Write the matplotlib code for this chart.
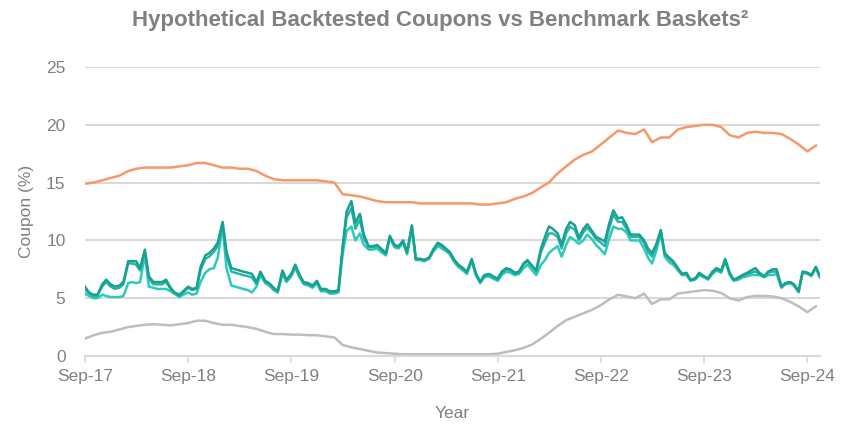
import numpy as np
import pandas as pd
import matplotlib.pyplot as plt

plt.rcParams['font.family'] = ['Liberation Sans', 'DejaVu Sans']

# Monthly benchmark series (Sep-17 .. Oct-24)
orange = [14.9, 15.0, 15.2, 15.4, 15.6, 16.0, 16.2, 16.3, 16.3, 16.3,
          16.3, 16.4, 16.5, 16.7, 16.7, 16.5, 16.3, 16.3, 16.2, 16.2,
          16.0, 15.6, 15.3, 15.2, 15.2, 15.2, 15.2, 15.2, 15.1, 15.0,
          14.0, 13.9, 13.8, 13.6, 13.4, 13.3, 13.3, 13.3, 13.3, 13.2,
          13.2, 13.2, 13.2, 13.2, 13.2, 13.2, 13.1, 13.1, 13.2, 13.3,
          13.6, 13.8, 14.1, 14.6, 15.0, 15.8, 16.4, 17.0, 17.4, 17.7,
          18.3, 18.9, 19.5, 19.3, 19.2, 19.6, 18.5, 18.9, 18.9, 19.6,
          19.8, 19.9, 20.0, 20.0, 19.8, 19.1, 18.9, 19.3, 19.4, 19.3,
          19.3, 19.2, 18.8, 18.3, 17.7, 18.2]

gray = [1.5, 1.8, 2.0, 2.1, 2.3, 2.5, 2.6, 2.7, 2.75, 2.7,
        2.65, 2.75, 2.85, 3.05, 3.05, 2.85, 2.7, 2.7, 2.6, 2.5,
        2.35, 2.1, 1.9, 1.9, 1.85, 1.85, 1.8, 1.8, 1.7, 1.6,
        0.95, 0.75, 0.6, 0.45, 0.3, 0.25, 0.2, 0.15, 0.15, 0.15,
        0.15, 0.15, 0.15, 0.15, 0.15, 0.15, 0.15, 0.15, 0.2, 0.35,
        0.5, 0.7, 1.0, 1.5, 2.0, 2.6, 3.1, 3.4, 3.7, 4.0,
        4.4, 4.9, 5.3, 5.15, 5.0, 5.4, 4.5, 4.9, 4.9, 5.4,
        5.5, 5.6, 5.7, 5.65, 5.45, 5.0, 4.8, 5.1, 5.2, 5.2,
        5.15, 5.0, 4.7, 4.3, 3.8, 4.3]

# Semi-monthly backtested coupons
teal_dark = [6.0, 5.5, 5.3, 5.3, 6.2, 6.6, 6.2, 6.0, 6.1, 6.4,
             8.2, 8.2, 8.2, 7.6, 9.2, 6.9, 6.4, 6.4, 6.4, 6.6,
             5.9, 5.5, 5.3, 5.6, 6.0, 5.8, 5.9, 7.7, 8.7, 8.9,
             9.3, 9.8, 11.6, 9.0, 7.6, 7.5, 7.4, 7.3, 7.2, 7.1,
             6.4, 7.3, 6.5, 6.3, 5.9, 5.6, 7.4, 6.6, 7.1, 7.9,
             7.0, 6.4, 6.3, 6.1, 6.5, 5.8, 5.8, 5.6, 5.6, 5.7,
             9.5, 12.5, 13.4, 11.5, 12.3, 10.5, 9.5, 9.5, 9.6, 9.3,
             8.9, 10.4, 9.6, 9.5, 10.0, 9.0, 11.3, 8.4, 8.4, 8.3,
             8.5, 9.2, 9.8, 9.6, 9.3, 9.0, 8.3, 7.9, 7.6, 7.3,
             8.4, 7.2, 6.4, 7.0, 7.1, 6.9, 6.7, 7.3, 7.6, 7.5,
             7.2, 7.3, 8.0, 8.3, 7.8, 7.4, 9.3, 10.3, 11.2, 11.0,
             10.6, 9.6, 11.0, 11.6, 11.3, 10.2, 11.0, 11.4, 10.8, 10.3,
             10.1, 9.9, 11.5, 12.6, 11.9, 12.0, 11.3, 10.5, 10.5, 10.5,
             10.0, 9.3, 8.9, 9.6, 10.9, 8.9, 8.5, 8.2, 7.6, 7.1,
             7.2, 6.6, 6.7, 7.2, 6.9, 6.7, 7.3, 7.6, 7.4, 8.4,
             7.2, 6.6, 6.8, 7.0, 7.2, 7.4, 7.6, 7.2, 6.9, 7.3,
             7.5, 7.5, 6.0, 6.3, 6.4, 6.2, 5.6, 7.3, 7.2, 7.0, 7.7, 6.9]

teal_mid = [5.8, 5.4, 5.2, 5.2, 6.0, 6.4, 6.0, 5.8, 5.9, 6.2,
            8.0, 8.0, 7.9, 7.4, 9.1, 6.7, 6.2, 6.2, 6.2, 6.4,
            5.8, 5.4, 5.2, 5.5, 5.9, 5.7, 5.8, 7.4, 8.4, 8.6,
            9.0, 9.5, 11.5, 8.7, 7.3, 7.2, 7.1, 7.0, 6.9, 6.8,
            6.2, 7.2, 6.4, 6.2, 5.8, 5.6, 7.3, 6.5, 7.0, 7.8,
            6.9, 6.3, 6.2, 6.0, 6.4, 5.7, 5.7, 5.5, 5.5, 5.6,
            9.3, 12.0, 12.8, 11.0, 11.8, 10.2, 9.4, 9.4, 9.5, 9.2,
            8.8, 10.3, 9.5, 9.4, 9.9, 8.9, 11.2, 8.4, 8.4, 8.3,
            8.5, 9.1, 9.7, 9.5, 9.2, 8.9, 8.2, 7.8, 7.5, 7.2,
            8.3, 7.1, 6.4, 6.9, 7.0, 6.8, 6.6, 7.2, 7.5, 7.4,
            7.1, 7.2, 7.9, 8.2, 7.7, 7.3, 9.0, 9.8, 10.6, 10.6,
            10.3, 9.3, 10.6, 11.2, 10.9, 10.0, 10.7, 11.1, 10.6, 10.1,
            9.8, 9.5, 11.1, 12.2, 11.6, 11.6, 11.0, 10.3, 10.3, 10.3,
            9.8, 9.0, 8.6, 9.4, 10.8, 8.8, 8.4, 8.1, 7.5, 7.1,
            7.1, 6.6, 6.7, 7.1, 6.9, 6.7, 7.2, 7.5, 7.3, 8.3,
            7.1, 6.6, 6.7, 6.9, 7.1, 7.2, 7.3, 7.1, 6.9, 7.2,
            7.3, 7.3, 6.0, 6.3, 6.4, 6.2, 5.6, 7.3, 7.2, 7.0, 7.7, 6.9]

teal_bright = [5.4, 5.2, 5.0, 5.0, 5.3, 5.2, 5.1, 5.1, 5.1, 5.2,
               6.3, 6.4, 6.3, 6.4, 8.8, 6.0, 5.9, 5.8, 5.8, 5.8,
               5.6, 5.4, 5.1, 5.3, 5.5, 5.3, 5.4, 6.4, 7.2, 7.5,
               7.6, 8.5, 11.2, 7.6, 6.1, 6.0, 5.9, 5.8, 5.7, 5.5,
               6.0, 7.0, 6.3, 6.1, 5.7, 5.5, 7.1, 6.4, 6.9, 7.6,
               6.8, 6.2, 6.1, 5.9, 6.3, 5.6, 5.6, 5.4, 5.4, 5.5,
               8.8, 10.8, 11.2, 10.0, 10.6, 9.6, 9.2, 9.2, 9.3, 9.0,
               8.7, 10.2, 9.4, 9.3, 9.8, 8.8, 11.0, 8.3, 8.3, 8.2,
               8.4, 9.0, 9.5, 9.3, 9.1, 8.8, 8.1, 7.7, 7.4, 7.1,
               8.2, 7.0, 6.3, 6.8, 6.9, 6.7, 6.5, 7.0, 7.3, 7.2,
               7.0, 7.1, 7.6, 7.9, 7.4, 7.0, 7.9, 8.3, 8.9, 9.2,
               9.5, 8.6, 9.6, 10.3, 10.0, 9.7, 10.0, 10.5, 10.1, 9.6,
               9.2, 8.8, 10.2, 11.2, 11.0, 11.0, 10.7, 10.0, 10.0, 10.0,
               9.3, 8.5, 8.0, 9.0, 10.6, 8.6, 8.1, 7.9, 7.4, 7.0,
               7.0, 6.5, 6.6, 7.0, 6.8, 6.6, 7.1, 7.4, 7.2, 8.2,
               7.0, 6.5, 6.6, 6.8, 6.9, 7.0, 7.0, 7.0, 6.8, 7.0,
               7.0, 7.1, 5.9, 6.2, 6.3, 6.1, 5.5, 7.2, 7.1, 6.9, 7.6, 6.8]

monthly = pd.date_range('2017-09-01', periods=len(orange), freq='MS')
semi = pd.date_range('2017-09-01', periods=len(teal_dark), freq='SMS')
tick_dates = pd.to_datetime(['%d-09-01' % y for y in range(2017, 2025)])
tick_labels = ['Sep-%02d' % (y % 100) for y in range(2017, 2025)]

txt = '#808080'
grid_c = '#d9d9d9'

fig = plt.figure(figsize=(8.44, 4.28), dpi=100)
ax = fig.add_axes([0.1007, 0.1682, 0.871, 0.6753])

ax.plot(monthly, gray, color='#bdbdbd', lw=1.8)
ax.plot(monthly, orange, color='#f79868', lw=1.8)
ax.plot(semi, teal_bright, color='#2ccabb', lw=1.8)
ax.plot(semi, teal_mid, color='#22b5a6', lw=1.7)
ax.plot(semi, teal_dark, color='#1aa090', lw=1.8)

ax.set_ylim(0, 25)
ax.set_xlim(pd.Timestamp('2017-09-01'), pd.Timestamp('2024-10-16'))
ax.set_yticks([0, 5, 10, 15, 20, 25])
ax.set_xticks(tick_dates)
ax.set_xticklabels(tick_labels)
ax.yaxis.grid(True, color=grid_c, lw=1.5)
ax.set_axisbelow(True)
for s in ['top', 'right', 'left']:
    ax.spines[s].set_visible(False)
ax.spines['bottom'].set_color(grid_c)
ax.spines['bottom'].set_linewidth(1.5)
ax.tick_params(axis='x', colors=txt, labelsize=12.5, length=5, width=1.2,
               color=grid_c, pad=4)
ax.tick_params(axis='y', colors=txt, labelsize=12.5, length=0, pad=14)

ax.set_xlabel('Year', color=txt, fontsize=12.5, labelpad=16)
ax.set_ylabel('Coupon (%)', color=txt, fontsize=12.5, labelpad=9)

fig.text(0.521, 0.953, 'Hypothetical Backtested Coupons vs Benchmark Baskets²',
         ha='center', va='center', color=txt, fontsize=16, fontweight='bold')

fig.savefig('out.png', dpi=100)
